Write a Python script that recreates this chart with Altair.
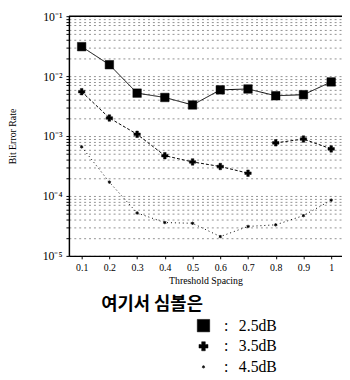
import altair as alt
import pandas as pd

# ---- data ----
spacing = [0.1, 0.2, 0.3, 0.4, 0.5, 0.6, 0.7, 0.8, 0.9, 1.0]
ber_2_5 = [3.1e-2, 1.55e-2, 5.2e-3, 4.4e-3, 3.3e-3, 5.9e-3, 6.1e-3, 4.7e-3, 4.9e-3, 8.0e-3]
ber_3_5 = [5.5e-3, 2.0e-3, 1.07e-3, 4.7e-4, 3.7e-4, 3.1e-4, 2.4e-4, 7.7e-4, 8.9e-4, 6.1e-4]
ber_4_5 = [6.6e-4, 1.7e-4, 5.2e-5, 3.6e-5, 3.5e-5, 2.1e-5, 3.1e-5, 3.3e-5, 4.7e-5, 8.5e-5]
series_names = ["2.5dB", "3.5dB", "4.5dB"]
# line segments (the 3.5dB curve is broken between 0.7 and 0.8)
seg_2_5 = [0] * 10
seg_3_5 = [0, 0, 0, 0, 0, 0, 0, 1, 1, 1]
seg_4_5 = [0] * 10
x_ticks = spacing
legend_title = "여기서 심볼은"

rows = []
for name, vals, segs in zip(series_names, [ber_2_5, ber_3_5, ber_4_5], [seg_2_5, seg_3_5, seg_4_5]):
    for x, v, s in zip(spacing, vals, segs):
        rows.append({"series": name, "spacing": x, "ber": v, "seg": f"{name}-{s}"})
df = pd.DataFrame(rows)
legend_df = pd.DataFrame({"series": series_names, "colon": [":"] * len(series_names)})

y_ticks = [m * 10.0 ** e for e in range(-5, -1) for m in range(1, 10)] + [0.1]

label_expr_y = (
    "datum.value > 0.099 && datum.value < 0.101 ? '10⁻¹' : "
    "datum.value > 0.0099 && datum.value < 0.0101 ? '10⁻²' : "
    "datum.value > 0.00099 && datum.value < 0.00101 ? '10⁻³' : "
    "datum.value > 0.000099 && datum.value < 0.000101 ? '10⁻⁴' : "
    "datum.value > 0.0000099 && datum.value < 0.0000101 ? '10⁻⁵' : ''"
)

serif = "Liberation Serif"

x_scale = alt.Scale(domain=[0.054, 1.039], nice=False, zero=False)
y_scale = alt.Scale(type="log", domain=[1e-5, 1e-1], nice=False)

x_enc = alt.X(
    "spacing:Q",
    scale=x_scale,
    axis=alt.Axis(
        values=x_ticks,
        labelExpr="datum.value == 1 ? '1' : format(datum.value, '.1f')",
        labelOverlap=False,
        title="Threshold Spacing",
        grid=False,
        tickSize=3,
        labelPadding=4,
        titlePadding=3,
        domainWidth=1.5,
    ),
)
y_enc = alt.Y(
    "ber:Q",
    scale=y_scale,
    axis=alt.Axis(
        values=y_ticks,
        labelExpr=label_expr_y,
        labelOverlap=False,
        title="Bit Error Rate",
        titleX=-52,
        grid=True,
        gridColor="#777777",
        gridDash=[2, 3],
        gridWidth=0.8,
        tickSize=3,
        labelPadding=4,
        labelFontSize=12,
        domainWidth=1.5,
    ),
)

lines = alt.Chart(df).mark_line(color="black", strokeWidth=1).encode(
    x=x_enc,
    y=y_enc,
    detail="seg:N",
    strokeDash=alt.StrokeDash(
        "series:N",
        scale=alt.Scale(domain=series_names, range=[[1, 0], [3, 2], [1, 3]]),
        legend=None,
    ),
    order="spacing:Q",
)

top_border = alt.Chart(pd.DataFrame({"top": [0.1]})).mark_rule(color="black", strokeWidth=1.5).encode(
    y=alt.Y("top:Q", scale=y_scale),
)

# filled six-pointed star for the 4.5dB symbol
star6 = ("M0,-1L0.25,-0.433L0.866,-0.5L0.5,0L0.866,0.5L0.25,0.433L0,1"
         "L-0.25,0.433L-0.866,0.5L-0.5,0L-0.866,-0.5L-0.25,-0.433Z")
shape_enc = alt.Shape("series:N", scale=alt.Scale(domain=series_names, range=["square", "cross", star6]), legend=None)

points = alt.Chart(df).mark_point(filled=True, color="black", stroke="black", strokeWidth=0.5, opacity=1).encode(
    x=x_enc,
    y=y_enc,
    shape=shape_enc,
    size=alt.Size("series:N", scale=alt.Scale(domain=series_names, range=[75, 11, 55]), legend=None),
)

main = alt.layer(lines, top_border, points)

# legend drawn below the plot (series rows on their own point scale)
leg_y = alt.Y("series:N", scale=alt.Scale(type="point", domain=series_names, range=[315, 357], padding=0), axis=None)
leg_symbols = alt.Chart(legend_df).mark_point(filled=True, color="black", stroke="black", strokeWidth=0.5, opacity=1).encode(
    x=alt.value(137),
    y=leg_y,
    shape=shape_enc,
    size=alt.Size("series:N", scale=alt.Scale(domain=series_names, range=[160, 9, 85]), legend=None),
)
leg_colon = alt.Chart(legend_df).mark_text(
    align="left", baseline="middle", font=serif, fontSize=16, color="black"
).encode(x=alt.value(158), y=leg_y, text="colon:N")
leg_text = alt.Chart(legend_df).mark_text(
    align="left", baseline="middle", font=serif, fontSize=16, color="black"
).encode(x=alt.value(173), y=leg_y, text="series:N")
leg_title = alt.Chart(pd.DataFrame({"t": [legend_title]})).mark_text(
    align="left", baseline="middle", font="Noto Sans CJK KR", fontSize=18, fontWeight="bold", color="black"
).encode(x=alt.value(33), y=alt.value(294), text="t:N")

chart = (
    alt.layer(main, leg_symbols, leg_colon, leg_text, leg_title)
    .resolve_scale(y="independent", size="independent")
    .properties(
        width=278,
        height=244,
        autosize=alt.AutoSizeParams(type="none"),
        padding={"left": 62, "top": 5, "right": 0, "bottom": 123},
    )
    .configure_view(stroke=None)
    .configure_axis(
        labelFont=serif,
        titleFont=serif,
        labelFontSize=10,
        titleFontSize=10,
        titleFontWeight="normal",
        labelColor="black",
        titleColor="black",
        domainColor="black",
        tickColor="black",
    )
)

chart.save("out.html", embed_options={"renderer": "svg", "actions": False})
